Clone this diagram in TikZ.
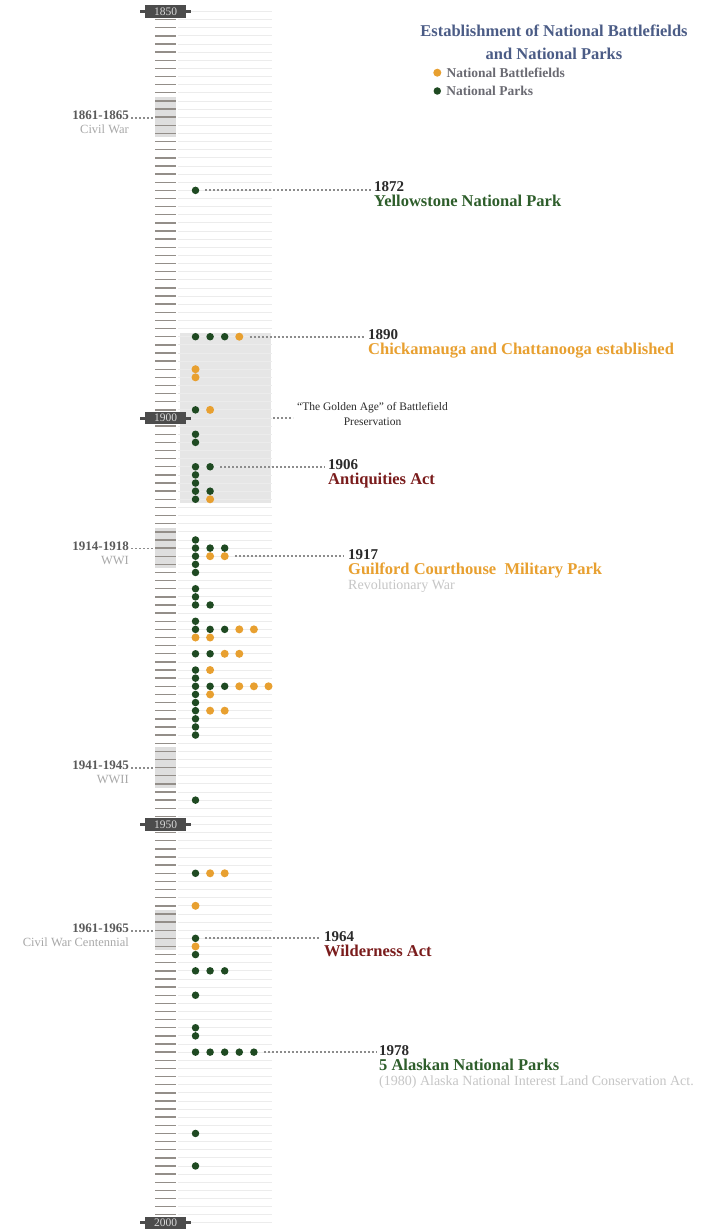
\documentclass[tikz,border=0pt]{standalone}
\usepackage{fontspec}
\setmainfont{Liberation Serif}
\usetikzlibrary{calc,positioning}

\definecolor{parkgreen}{HTML}{1F4A22}
\definecolor{parktext}{HTML}{2E5E2B}
\definecolor{bforange}{HTML}{E8A030}
\definecolor{redtext}{HTML}{7A1C1C}
\definecolor{titleblue}{HTML}{4B5C86}
\definecolor{yeartext}{HTML}{2B2B2B}
\definecolor{notegray}{HTML}{C6C6C6}
\definecolor{wartext}{HTML}{5A5A5A}
\definecolor{wargray}{HTML}{A8A8A8}
\definecolor{leadgray}{HTML}{8C8C8C}
\definecolor{tickgray}{HTML}{938E89}
\definecolor{guidegray}{HTML}{ECECEC}
\definecolor{shadegray}{HTML}{DEDEDE}
\definecolor{goldgray}{HTML}{E6E6E6}
\definecolor{boxgray}{HTML}{4C4C4C}
\definecolor{legendgray}{HTML}{6A6A72}

\newcommand{\yy}[1]{11.5+8.13*(#1-1850)}

\tikzset{
  np/.style={circle,fill=parkgreen,inner sep=0,minimum size=7.5pt},
  nb/.style={circle,fill=bforange,inner sep=0,minimum size=8pt},
  tickmark/.style={draw=tickgray,line width=1.4pt},
  guide/.style={draw=guidegray,line width=0.8pt},
  leader/.style={draw=leadgray,line width=1.8pt,dash pattern=on 2pt off 2pt},
  decade/.style={fill=boxgray,text=white!85!black,inner sep=0,minimum width=41pt,
    minimum height=12.5pt,font=\fontsize{11.5}{11.5}\selectfont},
  yearlbl/.style={inner sep=0,anchor=base west,text=yeartext,font=\bfseries\fontsize{15}{15}\selectfont},
  evt/.style={inner sep=0,font=\bfseries\fontsize{16.5}{16.5}\selectfont},
  note/.style={inner sep=0,text=notegray,font=\fontsize{14}{14}\selectfont},
  warlbl/.style={inner sep=0,anchor=base east,text=wartext,font=\bfseries\fontsize{13}{13}\selectfont},
  warname/.style={inner sep=0,anchor=base east,text=wargray,font=\fontsize{12.5}{12.5}\selectfont},
  ttl/.style={inner sep=0,anchor=base,text=titleblue,font=\bfseries\fontsize{16.5}{16.5}\selectfont},
  legend/.style={inner sep=0,text=legendgray,font=\bfseries\fontsize{13.5}{13.5}\selectfont},
}

\begin{document}
\begin{tikzpicture}[x=1pt,y=-1pt]
\useasboundingbox[fill=white] (0,0) rectangle (708,1230);

\fill[goldgray] (180,{\yy{1890}-4}) rectangle (271,{\yy{1910}+4});

\foreach \a/\b/\n/\w in {1861/1865/cw/Civil War,1914/1918/wwi/WWI,
    1941/1945/wwii/WWII,1961/1965/cwc/Civil War Centennial}{
  \fill[shadegray] (155,{\yy{\a}-4}) rectangle (176,{\yy{\b}+4});
  \coordinate (w\n) at (153,{\yy{(\a+\b)/2}+0.5});
  \node[warlbl] (l\n) at (129,{\yy{(\a+\b)/2}+2}) {\a-\b};
  \node[warname,below=14pt of l\n.base east,anchor=base east] {\w};
  \draw[leader,shorten <=2pt] (w\n -| l\n.east) -- (w\n);
}

\foreach \r in {1850,...,1999}
  \draw[guide] (178,{\yy{\r}}) -- (272,{\yy{\r}});
\foreach \r in {1851,...,1998}
  \draw[tickmark] (155,{\yy{\r}}) -- (176,{\yy{\r}});

\foreach \d/\r in {1850/1850,1900/1900,1950/1950,2000/1999}{
  \draw[boxgray,line width=3pt] (140,{\yy{\r}}) -- (191,{\yy{\r}});
  \node[decade] (y\d) at (165.5,{\yy{\r}}) {\d};
}

\foreach \yr/\seq in {1872/{np},1890/{np,np,np,nb},1894/{nb},1895/{nb},
    1899/{np,nb},1902/{np},1903/{np},1906/{np,np},1907/{np},1908/{np},
    1909/{np,np},1910/{np,nb},1915/{np},1916/{np,np,np},1917/{np,nb,nb},
    1918/{np},1919/{np},1921/{np},1922/{np},1923/{np,np},1925/{np},
    1926/{np,np,np,nb,nb},1927/{nb,nb},1929/{np,np,nb,nb},1931/{np,nb},
    1932/{np},1933/{np,np,np,nb,nb,nb},1934/{np,nb},1935/{np},
    1936/{np,nb,nb},1937/{np},1938/{np},1939/{np},1947/{np},
    1956/{np,nb,nb},1960/{nb},1964/{np},1965/{nb},1966/{np},
    1968/{np,np,np},1971/{np},1975/{np},1976/{np},
    1978/{np,np,np,np,np},1988/{np},1992/{np}}{
  \foreach \k [count=\i from 0] in \seq
    \node[\k] (d\yr-\i) at ({195.5+14.6*\i},{\yy{\yr}}) {};
}

% golden age
\coordinate (gbox) at (273,{\yy{1900}});
\node[inner sep=0,anchor=west,align=center,text=yeartext,
  font=\fontsize{11.5}{15}\selectfont] (gold) at (297,{\yy{1900}-4})
  {``The Golden Age'' of Battlefield\\Preservation};
\draw[leader,shorten >=4pt] (gbox) -- (gbox -| gold.west);

% events
\node[yearlbl] (e1872) at (374,{\yy{1872}+1}) {1872};
\node[evt,text=parktext,below=15pt of e1872.base west,anchor=base west] {Yellowstone National Park};
\draw[leader,shorten <=6pt,shorten >=3pt] (d1872-0) -- (d1872-0 -| e1872.west);

\node[yearlbl] (e1890) at (368,{\yy{1890}+3}) {1890};
\node[evt,text=bforange,below=15pt of e1890.base west,anchor=base west] {Chickamauga and Chattanooga established};
\draw[leader,shorten <=6pt,shorten >=3pt] (d1890-3) -- (d1890-3 -| e1890.west);

\node[yearlbl] (e1906) at (328,{\yy{1906}+3}) {1906};
\node[evt,text=redtext,below=15pt of e1906.base west,anchor=base west] {Antiquities Act};
\draw[leader,shorten <=6pt,shorten >=3pt] (d1906-1) -- (d1906-1 -| e1906.west);

\node[yearlbl] (e1917) at (348,{\yy{1917}+3}) {1917};
\node[evt,text=bforange,below=15pt of e1917.base west,anchor=base west] (t1917) {Guilford Courthouse\ \ Military Park};
\node[note,below=15pt of t1917.base west,anchor=base west] {Revolutionary War};
\draw[leader,shorten <=6pt,shorten >=5pt] (d1917-2) -- (d1917-2 -| e1917.west);

\node[yearlbl] (e1964) at (324,{\yy{1964}+3}) {1964};
\node[evt,text=redtext,below=15pt of e1964.base west,anchor=base west] {Wilderness Act};
\draw[leader,shorten <=6pt,shorten >=3pt] (d1964-0) -- (d1964-0 -| e1964.west);

\node[yearlbl] (e1978) at (379,{\yy{1978}+3}) {1978};
\node[evt,text=parktext,below=15pt of e1978.base west,anchor=base west] (t1978) {5 Alaskan National Parks};
\node[note,below=15pt of t1978.base west,anchor=base west] {(1980) Alaska National Interest Land Conservation Act.};
\draw[leader,shorten <=6pt,shorten >=3pt] (d1978-4) -- (d1978-4 -| e1978.west);

% title and key
\node[ttl] (ttl1) at (554,36.7) {Establishment of National Battlefields};
\node[ttl,below=22.6pt of ttl1.base,anchor=base] (ttl2) {and National Parks};
\node[nb] (kb) at (437.3,72.7) {};
\node[np] (kp) at (437.3,91) {};
\node[legend,right=5pt of kb] {National Battlefields};
\node[legend,right=5pt of kp] {National Parks};
\end{tikzpicture}
\end{document}
